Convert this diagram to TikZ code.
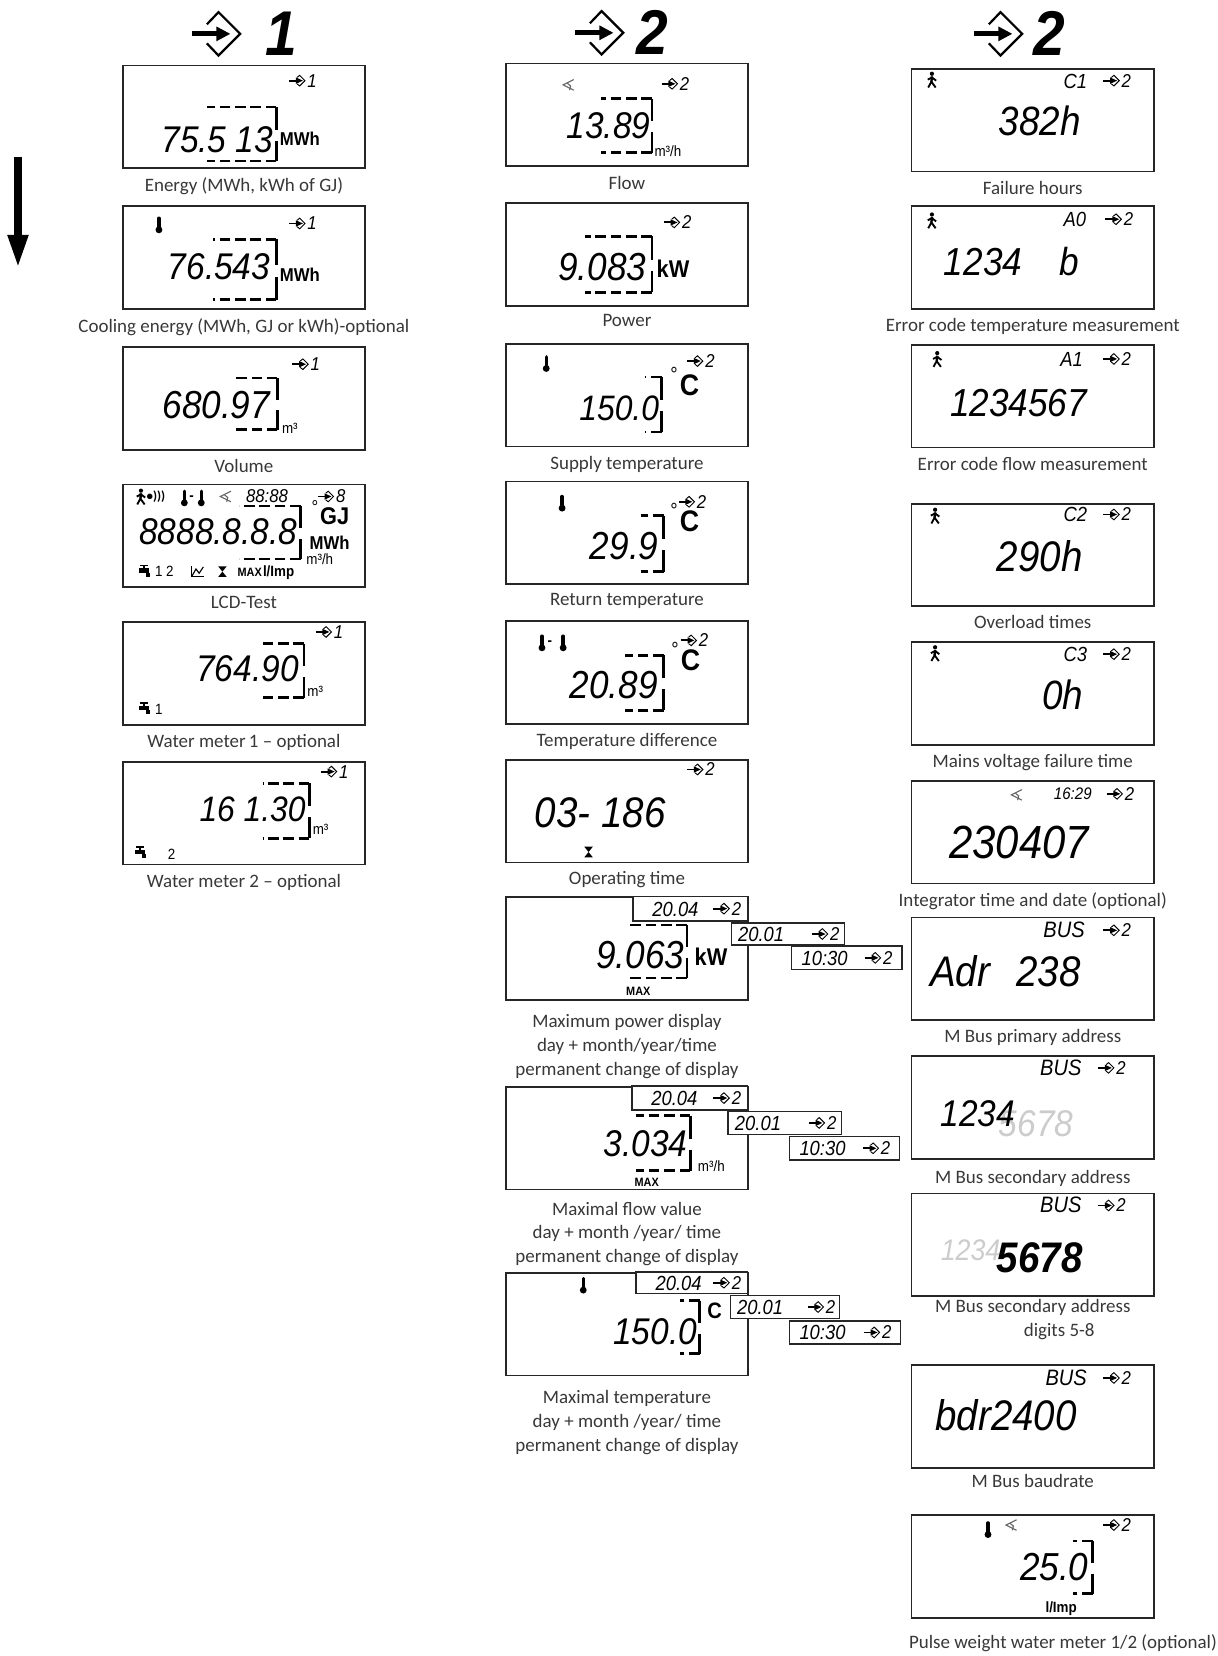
\documentclass[tikz,border=0pt]{standalone}
\usepackage{fontspec}
\setmainfont{Carlito}
\newfontfamily\lcd{Liberation Sans}[FakeStretch=0.9]
\usetikzlibrary{positioning,arrows.meta}

\tikzset{
  disp/.style={draw=black!85, line width=0.9pt, minimum width=4.58cm, minimum height=1.94cm, inner sep=0pt},
  capt/.style={font=\fontsize{10.2}{12.8}\selectfont, text=black!78, align=center, inner sep=1pt},
  val/.style={font=\lcd\itshape\fontsize{20}{20}\selectfont, anchor=base west, inner sep=0pt},
  sval/.style={font=\lcd\itshape\fontsize{11}{11}\selectfont, anchor=base west, inner sep=0pt},
  unit/.style={font=\lcd\bfseries\fontsize{10}{10}\selectfont, anchor=base west, inner sep=0pt},
  smalltxt/.style={font=\lcd\fontsize{8}{8}\selectfont, anchor=base west, inner sep=0pt},
  deco/.style={line width=1.5pt},
  ovl/.style={draw=black!85, line width=0.8pt, fill=white},
}

% big "enter" sign of the column heads, centre of the diamond
\newcommand{\bigsign}[2]{%
  \draw[line width=1.2pt] ({(#1)-0.22},{(#2)+0.18}) -- (#1,{(#2)+0.41}) -- ({(#1)+0.41},#2) -- (#1,{(#2)-0.41}) -- ({(#1)-0.22},{(#2)-0.18});
  \draw[line width=2.8pt] ({(#1)-0.5},#2) -- ({(#1)-0.02},#2);
  \fill ({(#1)+0.22},#2) -- ({(#1)-0.04},{(#2)+0.14}) -- ({(#1)-0.04},{(#2)-0.14}) -- cycle;
}
% small loop sign with its digit: left end, height, digit, node name
\newcommand{\tabmark}[4]{%
  \draw[line width=1pt] (#1,#2) -- ({(#1)+0.14},#2);
  \fill ({(#1)+0.26},#2) -- ({(#1)+0.13},{(#2)+0.06}) -- ({(#1)+0.13},{(#2)-0.06}) -- cycle;
  \draw[line width=0.5pt] ({(#1)+0.15},{(#2)+0.06}) -- ({(#1)+0.2},{(#2)+0.1}) -- ({(#1)+0.3},#2) -- ({(#1)+0.2},{(#2)-0.1}) -- ({(#1)+0.15},{(#2)-0.06});
  \node[sval, anchor=west, font=\lcd\itshape\fontsize{10}{10}\selectfont] (#4) at ({(#1)+0.34},#2) {#3};
}
% dashed segments round the decimals: left x, right x, top y, bottom y
\newcommand{\decfrm}[4]{%
  \draw[deco, dash pattern=on 0.2cm off 0.09cm] (#2,#3) -- (#1,#3);
  \draw[deco] (#2,#3) -- (#2,{(#3)+0.42*((#4)-(#3))});
  \draw[deco] (#2,{(#4)-0.38*((#4)-(#3))}) -- (#2,#4);
  \draw[deco, dash pattern=on 0.2cm off 0.09cm] (#2,#4) -- (#1,#4);
}
\newcommand{\thermo}[2]{% thermometer
  \draw[line width=1.8pt, line cap=round] (#1,{(#2)+0.12}) -- (#1,{(#2)-0.04});
  \fill (#1,{(#2)-0.1}) circle (0.065);
}
\newcommand{\walker}[2]{% person
  \fill (#1,{(#2)+0.11}) circle (0.04);
  \draw[line width=1.3pt] (#1,{(#2)+0.06}) -- ({(#1)-0.01},{(#2)-0.04});
  \draw[line width=1pt] ({(#1)-0.08},#2) -- (#1,{(#2)+0.04}) -- ({(#1)+0.08},{(#2)-0.02});
  \draw[line width=1pt] ({(#1)-0.07},{(#2)-0.15}) -- ({(#1)-0.01},{(#2)-0.04}) -- ({(#1)+0.07},{(#2)-0.15});
}
\newcommand{\flowsign}[2]{% flow
  \draw[line width=0.6pt, black!60] ({(#1)+0.1},{(#2)+0.1}) -- ({(#1)-0.1},#2) -- ({(#1)+0.1},{(#2)-0.1});
  \draw[line width=0.6pt, black!60] ({(#1)-0.02},{(#2)+0.03}) -- ({(#1)+0.04},{(#2)-0.02}) -- ({(#1)+0.02},{(#2)-0.1});
}
\newcommand{\tapsign}[2]{% water tap
  \fill (#1,{(#2)-0.02}) rectangle ({(#1)+0.2},{(#2)+0.06});
  \fill ({(#1)+0.08},{(#2)+0.06}) rectangle ({(#1)+0.12},{(#2)+0.1});
  \fill ({(#1)+0.02},{(#2)+0.1}) rectangle ({(#1)+0.18},{(#2)+0.13});
  \fill ({(#1)+0.14},{(#2)-0.02}) rectangle ({(#1)+0.22},{(#2)-0.1});
}
\newcommand{\hglass}[2]{% hourglass
  \fill ({(#1)-0.08},{(#2)+0.1}) -- ({(#1)+0.08},{(#2)+0.1}) -- (#1,#2) -- cycle;
  \fill ({(#1)-0.08},{(#2)-0.1}) -- ({(#1)+0.08},{(#2)-0.1}) -- (#1,#2) -- cycle;
}
\newcommand{\peaksign}[2]{% chart
  \draw[line width=0.6pt] (#1,{(#2)+0.1}) -- (#1,{(#2)-0.09}) -- ({(#1)+0.24},{(#2)-0.09});
  \draw[line width=0.6pt] (#1,{(#2)-0.09}) -- ({(#1)+0.08},{(#2)+0.05}) -- ({(#1)+0.14},{(#2)-0.03}) -- ({(#1)+0.22},{(#2)+0.09});
}

\begin{document}
\begin{tikzpicture}
\useasboundingbox (0,0) rectangle (23.02,-31.3);

% column heads
\bigsign{4.13}{-0.64}
\node[font=\lcd\bfseries\itshape\fontsize{34}{34}\selectfont] (h1) at (5.31,-0.64) {1};
\bigsign{11.37}{-0.62}
\node[font=\lcd\bfseries\itshape\fontsize{34}{34}\selectfont] (h2) at (12.32,-0.62) {2};
\bigsign{18.91}{-0.64}
\node[font=\lcd\bfseries\itshape\fontsize{34}{34}\selectfont] (h3) at (19.84,-0.64) {2};

% scroll direction
\coordinate (dtop) at (0.34,-2.96);
\coordinate (dbot) at (0.34,-5.06);
\draw[line width=4pt, -{Triangle[length=0.62cm, width=0.36cm]}] (dtop) -- (dbot);

% ---------------- column 1 ----------------
\node[disp] (a1) at (4.61,-2.21) {};
\node[capt, below=0.12cm of a1] (a1l) {Energy (MWh, kWh of GJ)};
\begin{scope}[shift={(a1.north west)}]
\tabmark{3.16}{-0.30}{1}{a1m}
\node[val] (a1v) at (0.74,-1.66) {75.5 13};
\decfrm{1.6}{2.92}{-0.8}{-1.82}
\node[unit] (a1u) at (2.98,-1.52) {MWh};
\end{scope}

\node[disp] (a2) at (4.61,-4.87) {};
\node[capt, below=0.12cm of a2] (a2l) {Cooling energy (MWh, GJ or kWh)-optional};
\begin{scope}[shift={(a2.north west)}]
\thermo{0.7}{-0.36}
\tabmark{3.16}{-0.34}{1}{a2m}
\node[val] (a2v) at (0.86,-1.40) {76.543};
\decfrm{1.72}{2.92}{-0.64}{-1.78}
\node[unit] (a2u) at (2.98,-1.44) {MWh};
\end{scope}

\node[disp] (a3) at (4.61,-7.53) {};
\node[capt, below=0.12cm of a3] (a3l) {Volume};
\begin{scope}[shift={(a3.north west)}]
\tabmark{3.22}{-0.34}{1}{a3m}
\node[val] (a3v) at (0.76,-1.36) {\fontsize{21}{21}\selectfont 680.97};
\decfrm{2.16}{2.94}{-0.6}{-1.58}
\node[smalltxt] (a3u) at (3.02,-1.64) {m³};
\end{scope}

\node[disp] (a4) at (4.61,-10.13) {};
\node[capt, below=0.12cm of a4] (a4l) {LCD-Test};
\begin{scope}[shift={(a4.north west)}]
\walker{0.36}{-0.24}
\node[font=\bfseries\fontsize{7}{7}\selectfont, anchor=west, inner sep=0pt] (a4s) at (0.46,-0.24) {•)))};
\thermo{1.18}{-0.26}
\node[smalltxt, font=\lcd\bfseries\fontsize{8}{8}\selectfont] (a4d) at (1.27,-0.32) {-};
\thermo{1.5}{-0.26}
\flowsign{1.96}{-0.24}
\node[sval, font=\lcd\itshape\fontsize{10}{10}\selectfont] (a4t) at (2.34,-0.36) {88:88};
\tabmark{3.70}{-0.24}{8}{a4m}
\node[smalltxt, font=\lcd\fontsize{10}{10}\selectfont] (a4o) at (3.58,-0.56) {°};
\node[unit] (a4g) at (3.74,-0.76) {\fontsize{13}{13}\selectfont GJ};
\node[val] (a4v) at (0.32,-1.14) {8888.8.8.8};
\decfrm{2.22}{3.38}{-0.42}{-1.42}
\node[unit] (a4u) at (3.54,-1.24) {MWh};
\node[smalltxt] (a4f) at (3.48,-1.52) {m³/h};
\tapsign{0.32}{-1.66}
\node[smalltxt] (a4w) at (0.62,-1.76) {1 2};
\peaksign{1.32}{-1.66}
\hglass{1.9}{-1.66}
\node[smalltxt, font=\lcd\bfseries\fontsize{6.5}{6.5}\selectfont] (a4x) at (2.18,-1.76) {MAX};
\node[smalltxt, font=\lcd\bfseries\fontsize{8}{8}\selectfont] (a4i) at (2.66,-1.76) {l/Imp};
\end{scope}

\node[disp] (a5) at (4.61,-12.73) {};
\node[capt, below=0.12cm of a5] (a5l) {Water meter\,1 – optional};
\begin{scope}[shift={(a5.north west)}]
\tabmark{3.66}{-0.20}{1}{a5m}
\node[val] (a5v) at (1.40,-1.14) {764.90};
\decfrm{2.66}{3.44}{-0.42}{-1.44}
\node[smalltxt] (a5u) at (3.50,-1.42) {m³};
\tapsign{0.32}{-1.66}
\node[smalltxt] (a5w) at (0.62,-1.76) {1};
\end{scope}

\node[disp] (a6) at (4.61,-15.37) {};
\node[capt, below=0.12cm of a6] (a6l) {Water meter 2 – optional};
\begin{scope}[shift={(a6.north west)}]
\tabmark{3.76}{-0.20}{1}{a6m}
\node[val] (a6v) at (1.46,-1.14) {\fontsize{19}{19}\selectfont 16 1.30};
\decfrm{2.66}{3.54}{-0.42}{-1.46}
\node[smalltxt] (a6u) at (3.60,-1.38) {m³};
\tapsign{0.24}{-1.74}
\node[smalltxt] (a6w) at (0.86,-1.86) {2};
\end{scope}

% ---------------- column 2 ----------------
\node[disp] (b1) at (11.85,-2.17) {};
\node[capt, below=0.14cm of b1] (b1l) {Flow};
\begin{scope}[shift={(b1.north west)}]
\flowsign{1.2}{-0.42}
\tabmark{2.96}{-0.40}{2}{b1m}
\node[val] (b1v) at (1.16,-1.44) {13.89};
\decfrm{1.82}{2.78}{-0.68}{-1.70}
\node[smalltxt] (b1u) at (2.82,-1.78) {m³/h};
\end{scope}

\node[disp] (b2) at (11.85,-4.81) {};
\node[capt, below=0.1cm of b2] (b2l) {Power};
\begin{scope}[shift={(b2.north west)}]
\tabmark{3.00}{-0.38}{2}{b2m}
\node[val] (b2v) at (1.00,-1.48) {\fontsize{21}{21}\selectfont 9.083};
\decfrm{1.52}{2.78}{-0.64}{-1.70}
\node[unit] (b2u) at (2.86,-1.42) {\fontsize{13}{13}\selectfont kW};
\end{scope}

\node[disp] (b3) at (11.85,-7.47) {};
\node[capt, below=0.12cm of b3] (b3l) {Supply temperature};
\begin{scope}[shift={(b3.north west)}]
\thermo{0.78}{-0.38}
\tabmark{3.44}{-0.34}{2}{b3m}
\node[smalltxt, font=\lcd\fontsize{11}{11}\selectfont] (b3o) at (3.12,-0.72) {°};
\node[unit] (b3u) at (3.30,-1.00) {\fontsize{16}{16}\selectfont C};
\node[val] (b3v) at (1.40,-1.46) {\fontsize{19}{19}\selectfont 150.0};
\decfrm{2.64}{2.96}{-0.64}{-1.68}
\end{scope}

\node[disp] (b4) at (11.85,-10.07) {};
\node[capt, below=0.12cm of b4] (b4l) {Return temperature};
\begin{scope}[shift={(b4.north west)}]
\thermo{1.08}{-0.42}
\tabmark{3.28}{-0.40}{2}{b4m}
\node[smalltxt, font=\lcd\fontsize{11}{11}\selectfont] (b4o) at (3.12,-0.70) {°};
\node[unit] (b4u) at (3.30,-0.96) {\fontsize{16}{16}\selectfont C};
\node[val] (b4v) at (1.60,-1.50) {\fontsize{21}{21}\selectfont 29.9};
\decfrm{2.58}{3.00}{-0.66}{-1.72}
\end{scope}

\node[disp] (b5) at (11.85,-12.71) {};
\node[capt, below=0.12cm of b5] (b5l) {Temperature difference};
\begin{scope}[shift={(b5.north west)}]
\thermo{0.70}{-0.42}
\node[smalltxt, font=\lcd\bfseries\fontsize{8}{8}\selectfont] (b5d) at (0.80,-0.48) {-};
\thermo{1.10}{-0.42}
\tabmark{3.32}{-0.38}{2}{b5m}
\node[smalltxt, font=\lcd\fontsize{11}{11}\selectfont] (b5o) at (3.14,-0.68) {°};
\node[unit] (b5u) at (3.32,-0.94) {\fontsize{16}{16}\selectfont C};
\node[val] (b5v) at (1.22,-1.48) {\fontsize{21}{21}\selectfont 20.89};
\decfrm{2.26}{3.00}{-0.66}{-1.70}
\end{scope}

\node[disp] (b6) at (11.85,-15.33) {};
\node[capt, below=0.12cm of b6] (b6l) {Operating time};
\begin{scope}[shift={(b6.north west)}]
\tabmark{3.44}{-0.20}{2}{b6m}
\node[val] (b6v) at (0.56,-1.30) {\fontsize{23}{23}\selectfont 03- 186};
\hglass{1.58}{-1.76}
\end{scope}

\node[disp] (b7) at (11.85,-17.93) {};
\node[capt, below=0.22cm of b7] (b7l) {Maximum power display\\day + month/year/time\\permanent change of display};
\begin{scope}[shift={(b7.north west)}]
\node[val] (b7v) at (1.72,-1.36) {\fontsize{21}{21}\selectfont 9.063};
\decfrm{2.34}{3.44}{-0.54}{-1.54}
\node[unit] (b7u) at (3.58,-1.30) {\fontsize{13}{13}\selectfont kW};
\node[smalltxt, anchor=center, font=\lcd\bfseries\fontsize{6.5}{6.5}\selectfont] (b7x) at (2.52,-1.80) {MAX};
\draw[ovl] (2.42,0) rectangle (4.58,-0.46);
\node[sval] (b7d1) at (2.78,-0.37) {20.04};
\tabmark{3.94}{-0.23}{2}{b7m1}
\draw[ovl] (4.28,-0.50) rectangle (6.42,-0.92);
\node[sval] (b7d2) at (4.40,-0.85) {20.01};
\tabmark{5.80}{-0.71}{2}{b7m2}
\draw[ovl] (5.42,-0.94) rectangle (7.50,-1.38);
\node[sval] (b7d3) at (5.60,-1.30) {10:30};
\tabmark{6.80}{-1.16}{2}{b7m3}
\end{scope}

\node[disp] (b8) at (11.85,-21.51) {};
\node[capt, below=0.18cm of b8] (b8l) {Maximal flow value\\day + month /year/ time\\permanent change of display};
\begin{scope}[shift={(b8.north west)}]
\node[val] (b8v) at (1.86,-1.34) {3.034};
\decfrm{2.48}{3.50}{-0.56}{-1.60}
\node[smalltxt] (b8u) at (3.64,-1.62) {m³/h};
\node[smalltxt, anchor=center, font=\lcd\bfseries\fontsize{6.5}{6.5}\selectfont] (b8x) at (2.68,-1.82) {MAX};
\draw[ovl] (2.40,0) rectangle (4.58,-0.46);
\node[sval] (b8d1) at (2.76,-0.37) {20.04};
\tabmark{3.94}{-0.23}{2}{b8m1}
\draw[ovl] (4.22,-0.48) rectangle (6.36,-0.92);
\node[sval] (b8d2) at (4.34,-0.84) {20.01};
\tabmark{5.74}{-0.70}{2}{b8m2}
\draw[ovl] (5.38,-0.96) rectangle (7.46,-1.40);
\node[sval] (b8d3) at (5.56,-1.32) {10:30};
\tabmark{6.76}{-1.18}{2}{b8m3}
\end{scope}

\node[disp] (b9) at (11.85,-25.03) {};
\node[capt, below=0.22cm of b9] (b9l) {Maximal temperature\\day + month /year/ time\\permanent change of display};
\begin{scope}[shift={(b9.north west)}]
\thermo{1.48}{-0.24}
\node[unit] (b9u) at (3.82,-0.88) {\fontsize{12}{12}\selectfont C};
\node[val] (b9v) at (2.04,-1.36) {150.0};
\decfrm{3.30}{3.68}{-0.54}{-1.54}
\draw[ovl] (2.48,0) rectangle (4.58,-0.40);
\node[sval] (b9d1) at (2.84,-0.34) {20.04};
\tabmark{3.94}{-0.20}{2}{b9m1}
\draw[ovl] (4.26,-0.44) rectangle (6.32,-0.88);
\node[sval] (b9d2) at (4.38,-0.80) {20.01};
\tabmark{5.72}{-0.66}{2}{b9m2}
\draw[ovl] (5.38,-0.92) rectangle (7.48,-1.36);
\node[sval] (b9d3) at (5.56,-1.28) {10:30};
\tabmark{6.78}{-1.14}{2}{b9m3}
\end{scope}

% ---------------- column 3 ----------------
\node[disp] (c1) at (19.52,-2.27) {};
\node[capt, below=0.12cm of c1] (c1l) {Failure hours};
\begin{scope}[shift={(c1.north west)}]
\walker{0.40}{-0.22}
\node[sval] (c1c) at (2.88,-0.38) {C1};
\tabmark{3.64}{-0.24}{2}{c1m}
\node[val] (c1v) at (1.66,-1.28) {\fontsize{22}{22}\selectfont 382h};
\end{scope}

\node[disp] (c2) at (19.52,-4.87) {};
\node[capt, below=0.12cm of c2] (c2l) {Error code temperature measurement};
\begin{scope}[shift={(c2.north west)}]
\walker{0.40}{-0.28}
\node[sval] (c2c) at (2.88,-0.40) {A0};
\tabmark{3.68}{-0.26}{2}{c2m}
\node[val] (c2v) at (0.62,-1.32) {\fontsize{21}{21}\selectfont 1234\hspace{0.7cm}b};
\end{scope}

\node[disp] (c3) at (19.52,-7.49) {};
\node[capt, below=0.12cm of c3] (c3l) {Error code flow measurement};
\begin{scope}[shift={(c3.north west)}]
\walker{0.50}{-0.28}
\node[sval] (c3c) at (2.82,-0.42) {A1};
\tabmark{3.64}{-0.28}{2}{c3m}
\node[val] (c3v) at (0.74,-1.36) {\fontsize{21}{21}\selectfont 1234567};
\end{scope}

\node[disp] (c4) at (19.52,-10.49) {};
\node[capt, below=0.12cm of c4] (c4l) {Overload times};
\begin{scope}[shift={(c4.north west)}]
\walker{0.46}{-0.24}
\node[sval] (c4c) at (2.88,-0.36) {C2};
\tabmark{3.64}{-0.22}{2}{c4m}
\node[val] (c4v) at (1.62,-1.30) {\fontsize{23}{23}\selectfont 290h};
\end{scope}

\node[disp] (c5) at (19.52,-13.11) {};
\node[capt, below=0.12cm of c5] (c5l) {Mains voltage failure time};
\begin{scope}[shift={(c5.north west)}]
\walker{0.46}{-0.22}
\node[sval] (c5c) at (2.88,-0.38) {C3};
\tabmark{3.64}{-0.24}{2}{c5m}
\node[val] (c5v) at (2.48,-1.28) {\fontsize{22}{22}\selectfont 0h};
\end{scope}

\node[disp] (c6) at (19.52,-15.73) {};
\node[capt, below=0.12cm of c6] (c6l) {Integrator time and date (optional)};
\begin{scope}[shift={(c6.north west)}]
\flowsign{2.00}{-0.28}
\node[sval, font=\lcd\itshape\fontsize{9}{9}\selectfont] (c6t) at (2.70,-0.36) {16:29};
\tabmark{3.70}{-0.26}{2}{c6m}
\node[val] (c6v) at (0.72,-1.48) {\fontsize{25}{25}\selectfont 230407};
\end{scope}

\node[disp] (c7) at (19.52,-18.31) {};
\node[capt, below=0.12cm of c7] (c7l) {M Bus primary address};
\begin{scope}[shift={(c7.north west)}]
\node[sval, font=\lcd\itshape\fontsize{12}{12}\selectfont] (c7c) at (2.50,-0.40) {BUS};
\tabmark{3.64}{-0.26}{2}{c7m}
\node[val] (c7v) at (0.36,-1.32) {\fontsize{23}{23}\selectfont Adr\hspace{0.5cm}238};
\end{scope}

\node[disp] (c8) at (19.52,-20.93) {};
\node[capt, below=0.16cm of c8] (c8l) {M Bus secondary address};
\begin{scope}[shift={(c8.north west)}]
\node[sval, font=\lcd\itshape\fontsize{12}{12}\selectfont] (c8c) at (2.44,-0.38) {BUS};
\tabmark{3.54}{-0.24}{2}{c8m}
\node[val, text=black!20] (c8g) at (1.66,-1.54) {5678};
\node[val] (c8v) at (0.56,-1.34) {1234};
\end{scope}

\node[disp] (c9) at (19.52,-23.53) {};
\node[capt, below=0cm of c9] (c9l) {M Bus secondary address\\\hspace*{1cm}digits 5-8};
\begin{scope}[shift={(c9.north west)}]
\node[sval, font=\lcd\itshape\fontsize{12}{12}\selectfont] (c9c) at (2.44,-0.38) {BUS};
\tabmark{3.54}{-0.24}{2}{c9m}
\node[val, text=black!20] (c9g) at (0.56,-1.28) {\fontsize{16}{16}\selectfont 1234};
\node[val] (c9v) at (1.62,-1.50) {\fontsize{23}{23}\selectfont\bfseries 5678};
\end{scope}

\node[disp] (c10) at (19.52,-26.77) {};
\node[capt, below=0.06cm of c10] (c10l) {M Bus baudrate};
\begin{scope}[shift={(c10.north west)}]
\node[sval, font=\lcd\itshape\fontsize{12}{12}\selectfont] (c10c) at (2.54,-0.40) {BUS};
\tabmark{3.64}{-0.26}{2}{c10m}
\node[val] (c10v) at (0.46,-1.26) {\fontsize{23}{23}\selectfont bdr2400};
\end{scope}

\node[disp] (c11) at (19.52,-29.61) {};
\node[capt, anchor=west] (c11l) at (17.14,-31.06) {Pulse weight water meter 1/2 (optional)};
\begin{scope}[shift={(c11.north west)}]
\thermo{1.46}{-0.28}
\flowsign{1.90}{-0.20}
\tabmark{3.64}{-0.20}{2}{c11m}
\node[val] (c11v) at (2.06,-1.24) {\fontsize{21}{21}\selectfont 25.0};
\decfrm{3.06}{3.44}{-0.50}{-1.50}
\node[smalltxt, font=\lcd\bfseries\fontsize{8}{8}\selectfont] (c11u) at (2.54,-1.86) {l/Imp};
\end{scope}
\end{tikzpicture}
\end{document}
